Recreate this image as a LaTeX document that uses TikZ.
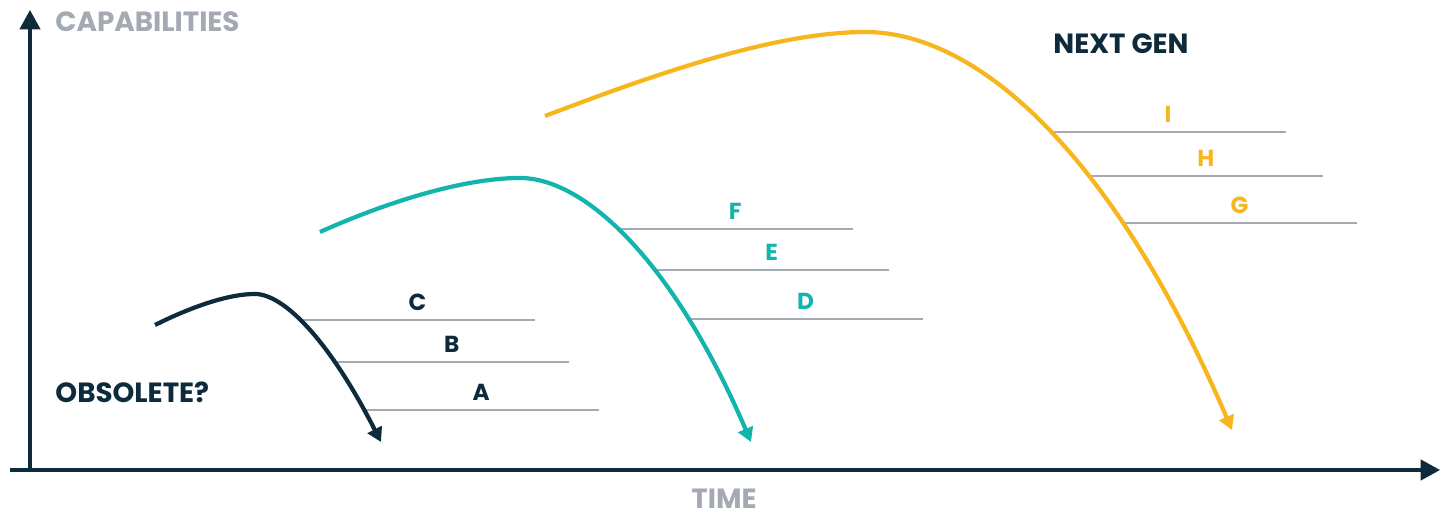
\documentclass[tikz,border=0pt]{standalone}
\usepackage{fontspec}
\setmainfont{Poppins}
\usetikzlibrary{arrows.meta, intersections, backgrounds}

\definecolor{navy}{HTML}{0E2B3C}
\definecolor{aqua}{HTML}{14B4AE}
\definecolor{amber}{HTML}{F8B61E}
\definecolor{slate}{HTML}{A3AAB3}

\begin{document}
\begin{tikzpicture}[
    x=0.01cm, y=-0.01cm, % one unit per pixel, y pointing down
    >={Triangle[length=5.5pt, width=5.8pt]}, % axis arrow tips
    axis/.style={->, navy, line width=0.9pt}, % the two axes
    axislabel/.style={slate, font=\bfseries\fontsize{7.9}{9}\selectfont}, % axis names
    wave/.style={-{Triangle[length=4pt, width=4.4pt]}, line width=1.2pt}, % generation curves
    level/.style={slate, line width=0.7pt}, % grey capability levels
    levellabel/.style={font=\bfseries\fontsize{6.6}{7}\selectfont}, % letters on the levels
    tag/.style={navy, anchor=west, font=\bfseries\fontsize{7.9}{9}\selectfont} % free texts
]

    \useasboundingbox (0,0) rectangle (1443,516);

    % Axes
    \coordinate (origin) at (30,470);
    \coordinate (xstart) at (10,470);
    \coordinate (xend) at (1440,470);
    \coordinate (ytop) at (30,10);
    \draw[axis] (xstart) -- (xend);
    \draw[axis] (origin) -- (ytop);
    \node[axislabel, anchor=west] (capabilities) at (43,22) {CAPABILITIES};
    \node[axislabel, inner sep=1pt] (time) at (724,499) {TIME};

    % Generation curves
    \draw[wave, navy, name path=old] (155,325) .. controls (185,310) and (225,294) .. (255,294)
        .. controls (283,294) and (328,338) .. (381,442);
    \draw[wave, aqua, name path=current] (320,232) .. controls (380,205) and (460,178) .. (520,178)
        .. controls (585,178) and (674,262) .. (751,442);
    \draw[wave, amber, name path=next] (545,116) .. controls (640,80) and (770,32) .. (865,32)
        .. controls (980,32) and (1115,158) .. (1232,430);

    % Capability levels, starting on each curve
    \begin{scope}[on background layer]
    \foreach \y/\lab in {320/C, 362/B, 410/A} {
        \path[name path=cut] (260,\y) -- (700,\y);
        \draw[level, name intersections={of=old and cut}] (intersection-1) -- ++(235,0)
            node[midway, above=-1pt, levellabel, text=navy] {\lab};
    }
    \foreach \y/\lab in {229/F, 270/E, 319/D} {
        \path[name path=cut] (525,\y) -- (1000,\y);
        \draw[level, name intersections={of=current and cut}] (intersection-1) -- ++(235,0)
            node[midway, above=-1pt, levellabel, text=aqua] {\lab};
    }
    \foreach \y/\lab in {132/I, 176/H, 223/G} {
        \path[name path=cut] (870,\y) -- (1400,\y);
        \draw[level, name intersections={of=next and cut}] (intersection-1) -- ++(235,0)
            node[midway, above=-1pt, levellabel, text=amber] {\lab};
    }
    \end{scope}

    % Free texts
    \node[tag] (obsolete) at (43,392) {OBSOLETE?};
    \node[tag] (nextgen) at (1041,44) {NEXT GEN};

\end{tikzpicture}
\end{document}
